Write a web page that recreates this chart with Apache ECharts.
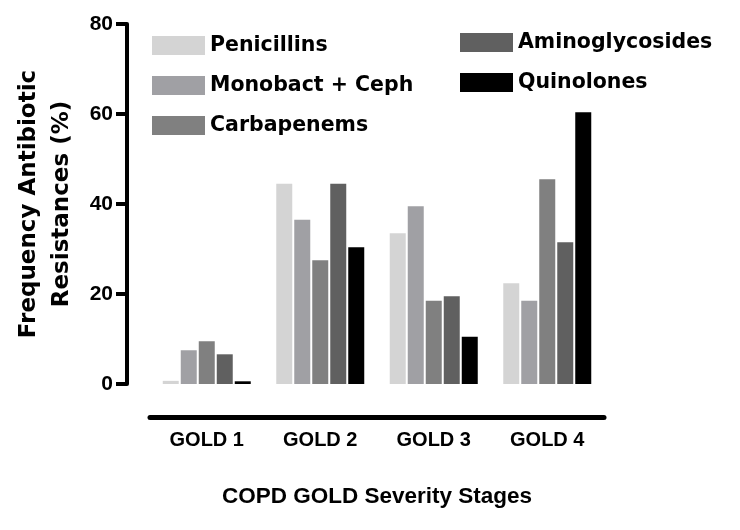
<!DOCTYPE html>
<html><head><meta charset="utf-8">
<script src="https://cdn.jsdelivr.net/npm/echarts@6/dist/echarts.min.js"></script>
<style>html,body{margin:0;padding:0;background:#fff}#c{width:740px;height:530px}</style>
</head><body><div id="c"></div>
<script>
const categories = ['GOLD 1', 'GOLD 2', 'GOLD 3', 'GOLD 4'];
const seriesNames = ['Penicillins', 'Monobact + Ceph', 'Carbapenems', 'Aminoglycosides', 'Quinolones'];
const penicillins = [0.7, 44.5, 33.5, 22.4];
const monobactCeph = [7.5, 36.5, 39.5, 18.5];
const carbapenems = [9.5, 27.5, 18.5, 45.5];
const aminoglycosides = [6.6, 44.5, 19.5, 31.5];
const quinolones = [0.6, 30.4, 10.5, 60.4];
const yTicks = [0, 20, 40, 60, 80];
const colors = ['#d4d4d4', '#a0a0a4', '#808080', '#606060', '#000000'];

const values = [penicillins, monobactCeph, carbapenems, aminoglycosides, quinolones];
const font = 'Liberation Sans, Arial, sans-serif';
const wide = 'DejaVu Sans, sans-serif';
const legendText = { fontFamily: wide, fontWeight: 'bold', fontSize: 20.5, color: '#000' };
const chart = echarts.init(document.getElementById('c'));
chart.setOption({
  animation: false,
  backgroundColor: '#fff',
  grid: { left: 150, right: 136, top: 24, bottom: 146 },
  legend: [
    { data: seriesNames.slice(0, 3), orient: 'vertical', left: 147, top: 30, itemWidth: 53, itemHeight: 19, itemGap: 19,
      icon: 'rect', textStyle: legendText },
    { data: seriesNames.slice(3), orient: 'vertical', left: 455, top: 27, itemWidth: 53, itemHeight: 19, itemGap: 19,
      icon: 'rect', textStyle: legendText }
  ],
  xAxis: {
    type: 'category', data: categories, offset: 33,
    axisLine: { onZero: false, lineStyle: { color: '#000', width: 5 } },
    axisTick: { show: false },
    axisLabel: { interval: 0, margin: 13, color: '#000', fontFamily: font, fontWeight: 'bold', fontSize: 20 },
    name: 'COPD GOLD Severity Stages', nameLocation: 'middle', nameGap: 68,
    nameTextStyle: { color: '#000', fontFamily: font, fontWeight: 'bold', fontSize: 22.5 }
  },
  yAxis: {
    type: 'value', min: yTicks[0], max: yTicks[yTicks.length - 1], interval: 20, offset: 23,
    axisLine: { show: true, lineStyle: { color: '#000', width: 4 } },
    axisTick: { show: true, length: 11, lineStyle: { color: '#000', width: 4 } },
    splitLine: { show: false },
    axisLabel: { margin: 14, color: '#000', fontFamily: font, fontWeight: 'bold', fontSize: 21 },
    name: 'Frequency Antibiotic\nResistances (%)', nameLocation: 'middle', nameGap: 47, nameRotate: 90,
    nameTextStyle: { color: '#000', fontFamily: wide, fontWeight: 'bold', fontSize: 23, lineHeight: 33 }
  },
  series: seriesNames.map((n, i) => ({
    name: n, type: 'bar', data: values[i], barWidth: 16, barGap: '12.5%',
    itemStyle: { color: colors[i] }
  }))
});
</script></body></html>
